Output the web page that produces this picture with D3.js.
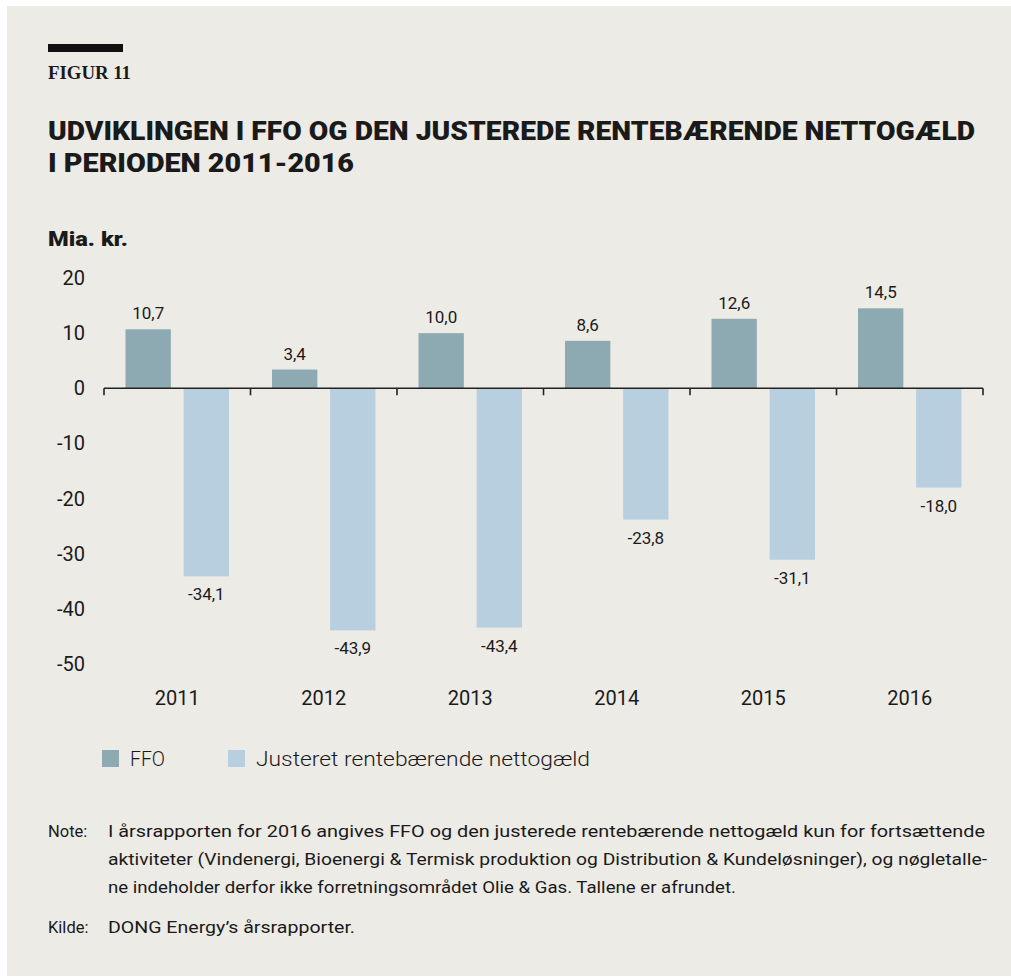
<!DOCTYPE html>
<html>
<head>
<meta charset="utf-8">
<script src="https://cdn.jsdelivr.net/npm/d3@7"></script>
<style>
  body { margin: 0; background: #fff; }
  svg text { font-family: Roboto, "Noto Sans", sans-serif; fill: #1a1a1a; }
</style>
</head>
<body>
<svg id="chart" width="1011" height="978"></svg>
<script>
const years = ['2011', '2012', '2013', '2014', '2015', '2016']
const ffo = [10.7, 3.4, 10.0, 8.6, 12.6, 14.5]
const debt = [-34.1, -43.9, -43.4, -23.8, -31.1, -18.0]
const yTicks = [20, 10, 0, -10, -20, -30, -40, -50]
const seriesNames = ['FFO', 'Justeret rentebærende nettogæld']
const colors = ['#8daab2', '#b7cfdf']

var svg = d3.select('#chart')

svg.append('rect')
	.attr('x', 7).attr('y', 6)
	.attr('width', 1004).attr('height', 970)
	.attr('fill', '#edebe6')

// header
svg.append('rect').attr('x', 48).attr('y', 44).attr('width', 75).attr('height', 8).attr('fill', '#111')
svg.append('text').attr('x', 48).attr('y', 79)
	.style('font-family', '"Liberation Serif", "DejaVu Serif", serif')
	.style('font-weight', 700).style('font-size', '18px')
	.attr('textLength', 83).attr('lengthAdjust', 'spacingAndGlyphs')
	.text('FIGUR 11')

var title = ['UDVIKLINGEN I FFO OG DEN JUSTEREDE RENTEBÆRENDE NETTOGÆLD', 'I PERIODEN 2011-2016']
svg.selectAll('.title').data(title).join('text')
	.attr('class', 'title')
	.attr('x', 48)
	.attr('y', (d, i) => 140 + i * 32)
	.style('font-family', 'Roboto, sans-serif')
	.style('font-weight', 900).style('font-size', '26px')
	.attr('textLength', (d, i) => i === 0 ? 927 : 306)
	.attr('lengthAdjust', 'spacingAndGlyphs')
	.text(d => d)

svg.append('text').attr('x', 48).attr('y', 246)
	.style('font-family', 'Roboto, sans-serif')
	.style('font-weight', 900).style('font-size', '20px')
	.attr('textLength', 80).attr('lengthAdjust', 'spacingAndGlyphs')
	.text('Mia. kr.')

// scales
var x = d3.scaleBand().domain(years).range([104, 983])
var x1 = d3.scaleBand().domain([0, 1]).range([0, x.bandwidth()]).paddingInner(0.22).paddingOuter(0.37)
var y = d3.scaleLinear().domain([-50, 20]).range([664, 278])

// y tick labels (no axis line)
svg.append('g').selectAll('text').data(yTicks).join('text')
	.attr('x', 85)
	.attr('y', d => y(d))
	.attr('dy', '0.35em')
	.attr('text-anchor', 'end')
	.style('font-size', '20px')
	.text(d => d)

// bars
var groups = svg.append('g').selectAll('g').data(years).join('g')
	.attr('transform', d => `translate(${x(d)},0)`)

var bars = groups.selectAll('rect')
	.data((d, i) => [ffo[i], debt[i]])
	.join('rect')
	.attr('x', (d, j) => x1(j))
	.attr('width', x1.bandwidth())
	.attr('y', d => y(Math.max(0, d)))
	.attr('height', d => Math.abs(y(d) - y(0)))
	.attr('fill', (d, j) => colors[j])

var fmt = v => v.toFixed(1).replace('.', ',')
groups.selectAll('.val')
	.data((d, i) => [ffo[i], debt[i]])
	.join('text')
	.attr('class', 'val')
	.attr('x', (d, j) => x1(j) + x1.bandwidth() / 2)
	.attr('y', d => d >= 0 ? y(d) - 10 : y(d) + 24)
	.attr('text-anchor', 'middle')
	.style('font-size', '17px')
	.text(d => fmt(d))

// x axis
var xAxis = d3.axisBottom(x).tickSize(0).tickPadding(0)
var gx = svg.append('g').attr('transform', `translate(0,${y(0)})`).call(xAxis)
gx.select('.domain').remove()
gx.selectAll('text')
	.attr('y', 303)
	.style('font-size', '20px')
	.style('font-family', 'Roboto, sans-serif')
	.attr('fill', '#1a1a1a')
gx.append('line').attr('x1', 104).attr('x2', 983).attr('stroke', '#222').attr('stroke-width', 1.6)
gx.selectAll('.sep').data(d3.range(years.length + 1)).join('line')
	.attr('class', 'sep')
	.attr('x1', i => 104 + i * x.step()).attr('x2', i => 104 + i * x.step())
	.attr('y1', 0).attr('y2', 7)
	.attr('stroke', '#222').attr('stroke-width', 1.6)

// legend
var legendX = [102, 228]
var legendW = [35, 334]
var lg = svg.append('g').selectAll('g').data(seriesNames).join('g')
	.attr('transform', (d, i) => `translate(${legendX[i]},750)`)
lg.append('rect').attr('width', 17).attr('height', 17).attr('fill', (d, i) => colors[i])
lg.append('text').attr('x', 28).attr('y', 9).attr('dy', '0.35em')
	.style('font-size', '21px').style('font-weight', 300)
	.attr('textLength', (d, i) => legendW[i]).attr('lengthAdjust', 'spacingAndGlyphs')
	.text(d => d)

// notes
var noteLines = [
	'I årsrapporten for 2016 angives FFO og den justerede rentebærende nettogæld kun for fortsættende',
	'aktiviteter (Vindenergi, Bioenergi & Termisk produktion og Distribution & Kundeløsninger), og nøgletalle-',
	'ne indeholder derfor ikke forretningsområdet Olie & Gas. Tallene er afrundet.'
]
var noteWidths = [877, 879, 628]
svg.append('text').attr('x', 48).attr('y', 837).style('font-size', '16.5px').text('Note:')
svg.selectAll('.note').data(noteLines).join('text')
	.attr('class', 'note')
	.attr('x', 108)
	.attr('y', (d, i) => 837 + i * 28)
	.style('font-size', '16.5px')
	.attr('textLength', (d, i) => noteWidths[i])
	.attr('lengthAdjust', 'spacingAndGlyphs')
	.text(d => d)
svg.append('text').attr('x', 48).attr('y', 933).style('font-size', '16.5px').text('Kilde:')
svg.append('text').attr('x', 108).attr('y', 933).style('font-size', '16.5px')
	.attr('textLength', 247).attr('lengthAdjust', 'spacingAndGlyphs')
	.text('DONG Energy’s årsrapporter.')
</script>
</body>
</html>
